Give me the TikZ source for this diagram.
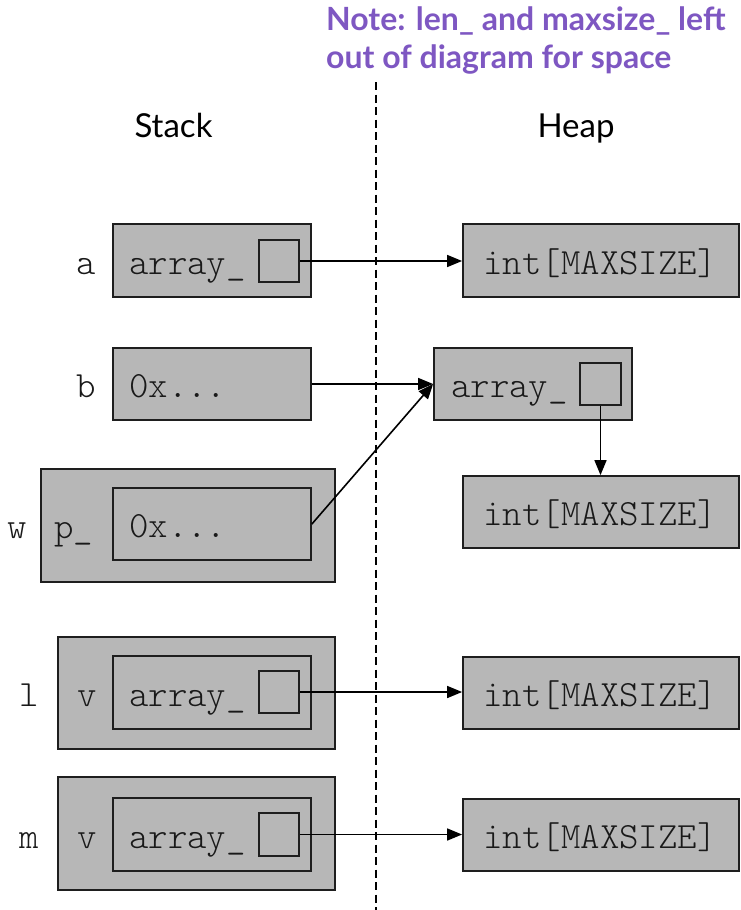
\documentclass[tikz,border=0pt]{standalone}
\usepackage{fontspec}
\setmainfont{Lato}
\newfontfamily\codefont{Latin Modern Mono Light}
\usetikzlibrary{arrows.meta}
\definecolor{boxgray}{RGB}{183,183,183}
\definecolor{edge}{RGB}{30,30,30}
\definecolor{notepurple}{RGB}{126,87,194}
\tikzset{
  memb/.style={draw=edge, line width=1.8pt, fill=boxgray, inner sep=0pt, rectangle},
  code/.style={inner sep=0pt, font=\codefont\fontsize{37pt}{40pt}\selectfont, text=black!90},
  head/.style={inner sep=0pt, font=\fontsize{33pt}{38pt}\selectfont, text=black},
  note/.style={inner sep=0pt, font=\bfseries\fontsize{32pt}{38pt}\selectfont, text=notepurple},
  arr/.style={draw=black, line width=1.6pt, -{Triangle[length=15pt,width=12pt]}},
  divider/.style={draw=black, line width=1.3pt, dash pattern=on 8pt off 4.5pt}
}
\begin{document}
\begin{tikzpicture}[x=1pt,y=-1pt]
\useasboundingbox (0,0) rectangle (741,910);
% note and headings
\node[note, anchor=base west] (note1) at (326,30) {Note: len\_ and maxsize\_ left};
\node[note, anchor=base west] (note2) at (326,68) {out of diagram for space};
\node[head, anchor=base] (stack) at (173.5,137) {Stack};
\node[head, anchor=base] (heap) at (576,137) {Heap};
\coordinate (dtop) at (376,82);
\coordinate (dbot) at (376,910);
\draw[divider] (dtop) -- (dbot);

% ---- a ----
\node[memb, minimum width=198pt, minimum height=73pt] (a) at (212,260.5) {};
\node[memb, minimum width=40pt, minimum height=42pt] (sqa) at (279,261) {};
\node[code, anchor=base west] (ta) at (129,274) {array\_};
\node[code, anchor=base] (la) at (86,274) {a};
\node[memb, minimum width=276pt, minimum height=73pt] (h1) at (601,260.5) {};
\node[code, anchor=base] (th1) at (600,274) {int[MAXSIZE]};

% ---- b ----
\node[memb, minimum width=198pt, minimum height=72pt] (b) at (212,384) {};
\node[code, anchor=base west] (tb) at (129,397) {0x...};
\node[code, anchor=base] (lb) at (86,397) {b};
\node[memb, minimum width=198pt, minimum height=72pt] (h2) at (533,384) {};
\node[memb, minimum width=41pt, minimum height=42pt] (sqh2) at (600.5,384) {};
\node[code, anchor=base west] (th2) at (451,397) {array\_};
\node[memb, minimum width=276pt, minimum height=72pt] (hb) at (601,512) {};
\node[code, anchor=base] (thb) at (600,525) {int[MAXSIZE]};

% ---- w ----
\node[memb, minimum width=294pt, minimum height=113pt] (w) at (188,525.5) {};
\node[memb, minimum width=198pt, minimum height=72pt] (wi) at (212,524) {};
\node[code, anchor=base west] (tw) at (129,537) {0x...};
\node[code, anchor=base west] (pw) at (54,538) {p\_};
\node[code, anchor=base] (lw) at (17,538) {w};

% ---- l ----
\node[memb, minimum width=277pt, minimum height=112pt] (l) at (196.5,693) {};
\node[memb, minimum width=198pt, minimum height=73pt] (li) at (212,692.5) {};
\node[memb, minimum width=40pt, minimum height=42pt] (sql) at (279,692) {};
\node[code, anchor=base west] (tl) at (129,706) {array\_};
\node[code, anchor=base] (vl) at (87,706) {v};
\node[code, anchor=base] (ll) at (29,706) {l};
\node[memb, minimum width=276pt, minimum height=72pt] (h3) at (601,693) {};
\node[code, anchor=base] (th3) at (600,706) {int[MAXSIZE]};

% ---- m ----
\node[memb, minimum width=277pt, minimum height=113pt] (m) at (196.5,833.5) {};
\node[memb, minimum width=198pt, minimum height=73pt] (mi) at (212,834.5) {};
\node[memb, minimum width=40pt, minimum height=43pt] (sqm) at (279,834.5) {};
\node[code, anchor=base west] (tm) at (129,848) {array\_};
\node[code, anchor=base] (vm) at (87,848) {v};
\node[code, anchor=base] (lm) at (29,848) {m};
\node[memb, minimum width=276pt, minimum height=72pt] (h4) at (601,835) {};
\node[code, anchor=base] (th4) at (600,848) {int[MAXSIZE]};

% ---- arrows ----
\draw[arr] (sqa.east) -- (sqa.east -| h1.west);
\draw[arr] (b.east) -- (h2.west);
\draw[arr] (wi.east) -- (h2.west);
\draw[arr] (sqh2.south) -- (sqh2.south |- hb.north);
\draw[arr] (sql.east) -- (sql.east -| h3.west);
\draw[arr] (sqm.east) -- (sqm.east -| h4.west);
\end{tikzpicture}
\end{document}
